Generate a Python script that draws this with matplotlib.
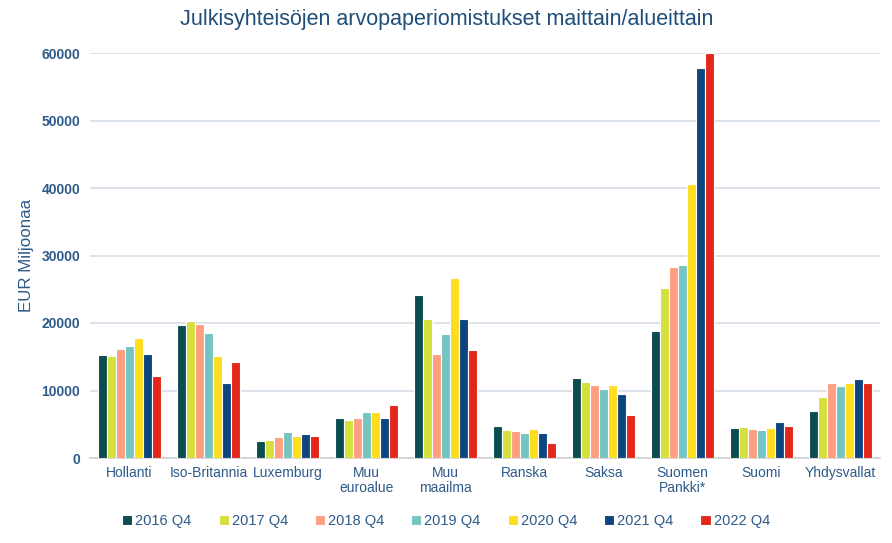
import matplotlib
matplotlib.use("Agg")
import matplotlib.pyplot as plt
import numpy as np

categories = ["Hollanti", "Iso-Britannia", "Luxemburg", "Muu\neuroalue", "Muu\nmaailma",
              "Ranska", "Saksa", "Suomen\nPankki*", "Suomi", "Yhdysvallat"]
series_names = ["2016 Q4", "2017 Q4", "2018 Q4", "2019 Q4", "2020 Q4", "2021 Q4", "2022 Q4"]
v2016 = [15200, 19650, 2580, 6000, 24100, 4800, 11780, 18800, 4450, 7030]
v2017 = [15050, 20330, 2730, 5640, 20540, 4110, 11280, 25140, 4600, 9050]
v2018 = [16090, 19890, 3070, 6000, 15390, 3960, 10790, 28250, 4260, 11130]
v2019 = [16580, 18460, 3920, 6830, 18310, 3760, 10240, 28550, 4110, 10740]
v2020 = [17760, 15050, 3270, 6830, 26710, 4260, 10790, 40570, 4450, 11130]
v2021 = [15390, 11130, 3620, 6000, 20540, 3760, 9410, 57790, 5300, 11630]
v2022 = [12120, 14200, 3270, 7870, 15940, 2280, 6340, 60000, 4750, 11130]
series = [v2016, v2017, v2018, v2019, v2020, v2021, v2022]
colors = ["#0A4C50", "#D5E03C", "#FF9E80", "#74C4C1", "#FFDD1F", "#0D4580", "#E3281B"]

plt.rcParams['font.family'] = ['Liberation Sans', 'DejaVu Sans']
txt = "#2E5A8A"

fig = plt.figure(figsize=(8.92, 5.43), dpi=100)
ax = fig.add_axes([90/892, (543-458)/543, 790/892, 405/543])

x = np.arange(len(categories))
n = len(series)
w = 0.8 / n
for i, (vals, c, name) in enumerate(zip(series, colors, series_names)):
    ax.bar(x - 0.4 + w*(i+0.5), vals, width=w, color=c, edgecolor="white",
           linewidth=0.8, label=name, zorder=3)

ax.set_xlim(-0.5, len(categories)-0.5)
ax.set_ylim(0, 60000)
ax.set_yticks(np.arange(0, 60001, 10000))
ax.yaxis.grid(True, color="#D6DEE8", linewidth=1.2, zorder=0)
ax.set_axisbelow(True)
for s in ["top", "right", "left"]:
    ax.spines[s].set_visible(False)
ax.spines["bottom"].set_color("#D0D0D0")
ax.spines["bottom"].set_linewidth(1.2)
ax.tick_params(axis="both", length=0)
ax.tick_params(axis="y", pad=7, labelsize=10, labelcolor=txt)
ax.tick_params(axis="x", pad=6, labelsize=10, labelcolor=txt)
for lab in ax.get_yticklabels():
    lab.set_fontweight("bold")
ax.set_xticks(x)
ax.set_xticklabels(categories, linespacing=1.1, va="top")

fig.text(26/892, 1 - 255/543, "EUR Miljoonaa", rotation=90, ha="center", va="center",
         fontsize=12.2, color=txt)
fig.text(447/892, 1 - 20/543, "Julkisyhteisöjen arvopaperiomistukset maittain/alueittain",
         ha="center", va="center", fontsize=15.5, color="#1F4E79")

leg = fig.legend(loc="center", bbox_to_anchor=(446/892, 1 - 521/543), ncol=7, frameon=False,
                 fontsize=10.5, handlelength=0.7, handleheight=0.7, handletextpad=0.2,
                 columnspacing=1.85)
for t in leg.get_texts():
    t.set_color(txt)

fig.savefig("out.png", dpi=100)
